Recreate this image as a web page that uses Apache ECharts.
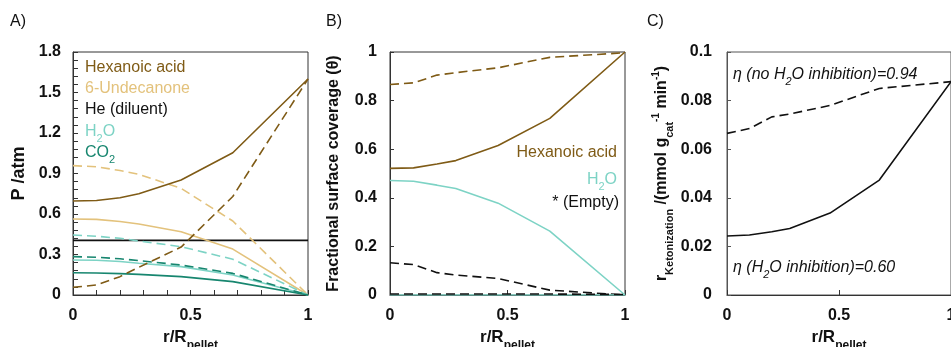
<!DOCTYPE html>
<html>
<head>
<meta charset="utf-8">
<script src="https://cdn.jsdelivr.net/npm/echarts@6/dist/echarts.min.js"></script>
<style>
  html, body {margin: 0; padding: 0; background: #fff;}
  #chart {width: 951px; height: 347px;}
</style>
</head>
<body>
<div id="chart"></div>
<script>
// radial positions r/R_pellet
const rPos = [0, 0.1, 0.2, 0.28, 0.46, 0.68, 1];

// A) partial pressures /atm (solid = H2O inhibition, dashed = no H2O inhibition)
const pHexanoic = [0.696, 0.70, 0.72, 0.75, 0.852, 1.054, 1.6];
const pHexanoicNoInh = [0.057, 0.074, 0.136, 0.205, 0.355, 0.73, 1.6];
const pUndecanone = [0.563, 0.56, 0.545, 0.526, 0.468, 0.34, 0];
const pUndecanoneNoInh = [0.958, 0.95, 0.922, 0.894, 0.79, 0.548, 0];
const pHelium = [0.405, 0.405, 0.405, 0.405, 0.405, 0.405, 0.405];
const pWater = [0.259, 0.257, 0.248, 0.235, 0.21, 0.148, 0];
const pWaterNoInh = [0.444, 0.435, 0.42, 0.40, 0.358, 0.265, 0];
const pCO2 = [0.165, 0.163, 0.158, 0.153, 0.136, 0.099, 0];
const pCO2NoInh = [0.284, 0.28, 0.268, 0.255, 0.222, 0.16, 0];

// B) fractional surface coverage
const thHexanoic = [0.521, 0.523, 0.539, 0.553, 0.615, 0.727, 1];
const thHexanoicNoInh = [0.866, 0.873, 0.905, 0.915, 0.935, 0.978, 0.997];
const thWater = [0.471, 0.468, 0.452, 0.438, 0.378, 0.263, 0];
const thWaterNoInh = [0, 0, 0, 0, 0, 0, 0];
const thEmpty = [0.004, 0.004, 0.004, 0.004, 0.004, 0.004, 0.002];
const thEmptyNoInh = [0.133, 0.125, 0.092, 0.082, 0.068, 0.02, 0];

// C) ketonization rate /(mmol g_cat^-1 min^-1)
const rateInh = [0.0243, 0.0247, 0.026, 0.0274, 0.0337, 0.0473, 0.0878];
const rateNoInh = [0.0665, 0.0685, 0.0733, 0.0745, 0.078, 0.085, 0.0878];

const C_HEX = '#7f5b16';
const C_UND = '#e3c27c';
const C_H2O = '#7dd3c5';
const C_CO2 = '#17866f';
const C_BLK = '#111111';

const FONT = '"Liberation Sans", Arial, sans-serif';
const DASH = [9, 5];

function pts(ys) {
  return rPos.map((x, i) => [x, ys[i]]);
}

function line(idx, ys, color, dashed, z) {
  return {
    type: 'line',
    xAxisIndex: idx,
    yAxisIndex: idx,
    data: pts(ys),
    symbol: 'none',
    z: z || 3,
    lineStyle: {color: color, width: 1.6, type: dashed ? DASH : 'solid'},
  };
}

// text with a subscript, for graphic elements (zrender styles use fill)
function subText(x, y, parts, color, opts) {
  opts = opts || {};
  const base = {fontFamily: FONT, fontSize: 16, fontStyle: opts.italic ? 'italic' : 'normal', fill: color, lineHeight: 20};
  return {
    type: 'text', x: x, y: y, z: 10,
    style: {
      text: parts, align: opts.align || 'left', verticalAlign: 'middle',
      rich: {
        a: base,
        s: Object.assign({}, base, {fontSize: 11, verticalAlign: 'bottom', padding: [0, 0, -2, 0]}),
      }
    }
  };
}

function plainText(x, y, txt, color, align) {
  return {type: 'text', x: x, y: y, z: 10, style: {text: txt, font: '16px ' + FONT, fill: color, align: align || 'left', verticalAlign: 'middle'}};
}

const tickLabel = {fontFamily: FONT, fontWeight: 'bold', fontSize: 16, color: '#111'};
const axisLine = {show: true, lineStyle: {color: '#333', width: 1}};

const xTitle = {
  rich: {
    b: {fontFamily: FONT, fontWeight: 'bold', fontSize: 17, color: '#111', lineHeight: 22},
    s: {fontFamily: FONT, fontWeight: 'bold', fontSize: 12, color: '#111', lineHeight: 22, verticalAlign: 'bottom', padding: [0, 0, -3, 0]},
  }
};

function xAxis(idx, minor) {
  return {
    type: 'value', gridIndex: idx, min: 0, max: 1, interval: 0.5,
    name: '{b|r/R}{s|pellet}', nameLocation: 'middle', nameGap: 21, nameTextStyle: xTitle,
    axisLine: axisLine,
    axisTick: {show: true, inside: true, length: 5, lineStyle: {color: '#333'}},
    minorTick: {show: minor, splitNumber: 5, length: 5, lineStyle: {color: '#333'}},
    axisLabel: Object.assign({margin: 13, formatter: v => String(v)}, tickLabel),
    splitLine: {show: false},
  };
}

const option = {
  animation: false,
  backgroundColor: '#fff',
  grid: [
    {left: 73, top: 52, width: 235, height: 243, outerBoundsMode: 'none', containLabel: false, show: true, borderColor: '#333', borderWidth: 1},
    {left: 390, top: 52, width: 235, height: 243, outerBoundsMode: 'none', containLabel: false, show: true, borderColor: '#333', borderWidth: 1},
    {left: 727, top: 52, width: 224, height: 243, outerBoundsMode: 'none', containLabel: false, show: true, borderColor: '#555', borderWidth: 1},
  ],
  xAxis: [xAxis(0, true), xAxis(1, false), xAxis(2, false)],
  yAxis: [
    {
      type: 'value', gridIndex: 0, min: 0, max: 1.8, interval: 0.3,
      name: 'P /atm', nameLocation: 'middle', nameGap: 45,
      nameTextStyle: {fontFamily: FONT, fontWeight: 'bold', fontSize: 18, color: '#111'},
      axisLine: axisLine,
      axisTick: {show: true, inside: true, length: 5, lineStyle: {color: '#333'}},
      minorTick: {show: true, splitNumber: 5, length: 5, lineStyle: {color: '#333'}},
      axisLabel: Object.assign({margin: 12, formatter: v => (v === 0 ? '0' : v.toFixed(1))}, tickLabel),
      splitLine: {show: false},
    },
    {
      type: 'value', gridIndex: 1, min: 0, max: 1, interval: 0.2,
      name: 'Fractional surface coverage (θ)', nameLocation: 'middle', nameGap: 48,
      nameTextStyle: {fontFamily: FONT, fontWeight: 'bold', fontSize: 16, color: '#111'},
      axisLine: axisLine,
      axisTick: {show: true, inside: true, length: 4, lineStyle: {color: '#333'}},
      axisLabel: Object.assign({margin: 13, formatter: v => (v === 0 || v === 1 ? String(v) : v.toFixed(1))}, tickLabel),
      splitLine: {show: false},
    },
    {
      type: 'value', gridIndex: 2, min: 0, max: 0.1, interval: 0.02,
      name: '{b|r}{s|Ketonization}{b| /(mmol g}{s|cat}{p|-1}{b| min}{p|-1}{b|)}',
      nameLocation: 'middle', nameGap: 54,
      nameTextStyle: {
        rich: {
          b: {fontFamily: FONT, fontWeight: 'bold', fontSize: 16, color: '#111', lineHeight: 22},
          s: {fontFamily: FONT, fontWeight: 'bold', fontSize: 11, color: '#111', lineHeight: 22, verticalAlign: 'bottom', padding: [0, 0, -2, 0]},
          p: {fontFamily: FONT, fontWeight: 'bold', fontSize: 10, color: '#111', lineHeight: 22, verticalAlign: 'top'},
        }
      },
      axisLine: {show: true, lineStyle: {color: '#555'}},
      axisTick: {show: true, inside: true, length: 4, lineStyle: {color: '#555'}},
      axisLabel: Object.assign({margin: 15, formatter: v => (v === 0 ? '0' : String(+v.toFixed(2)))}, tickLabel),
      splitLine: {show: false},
    },
  ],
  series: [
    line(0, pHelium, C_BLK, false, 2),
    line(0, pUndecanoneNoInh, C_UND, true),
    line(0, pUndecanone, C_UND, false),
    line(0, pWaterNoInh, C_H2O, true),
    line(0, pWater, C_H2O, false),
    line(0, pCO2NoInh, C_CO2, true),
    line(0, pCO2, C_CO2, false),
    line(0, pHexanoicNoInh, C_HEX, true),
    line(0, pHexanoic, C_HEX, false),

    line(1, thWaterNoInh, C_H2O, false, 4),
    line(1, thEmpty, C_BLK, true, 5),
    line(1, thEmptyNoInh, C_BLK, true),
    line(1, thWater, C_H2O, false),
    line(1, thHexanoicNoInh, C_HEX, true),
    line(1, thHexanoic, C_HEX, false),

    line(2, rateNoInh, C_BLK, true),
    line(2, rateInh, C_BLK, false),
  ],
  graphic: [
    plainText(10, 22, 'A)', '#111'),
    plainText(326, 22, 'B)', '#111'),
    plainText(647, 22, 'C)', '#111'),

    plainText(85, 68, 'Hexanoic acid', C_HEX),
    plainText(85, 89, '6-Undecanone', C_UND),
    plainText(85, 110, 'He (diluent)', C_BLK),
    subText(85, 132, '{a|H}{s|2}{a|O}', C_H2O),
    subText(85, 153, '{a|CO}{s|2}', C_CO2),

    plainText(617, 153, 'Hexanoic acid', C_HEX, 'right'),
    subText(617, 180, '{a|H}{s|2}{a|O}', C_H2O, {align: 'right'}),
    plainText(619, 203, '* (Empty)', C_BLK, 'right'),

    subText(733, 75, '{a|η (no H}{s|2}{a|O inhibition)=0.94}', '#111', {italic: true}),
    subText(733, 268, '{a|η (H}{s|2}{a|O inhibition)=0.60}', '#111', {italic: true}),
  ],
};

const myChart = echarts.init(document.getElementById('chart'), null, {renderer: 'canvas'});
myChart.setOption(option);
</script>
</body>
</html>
